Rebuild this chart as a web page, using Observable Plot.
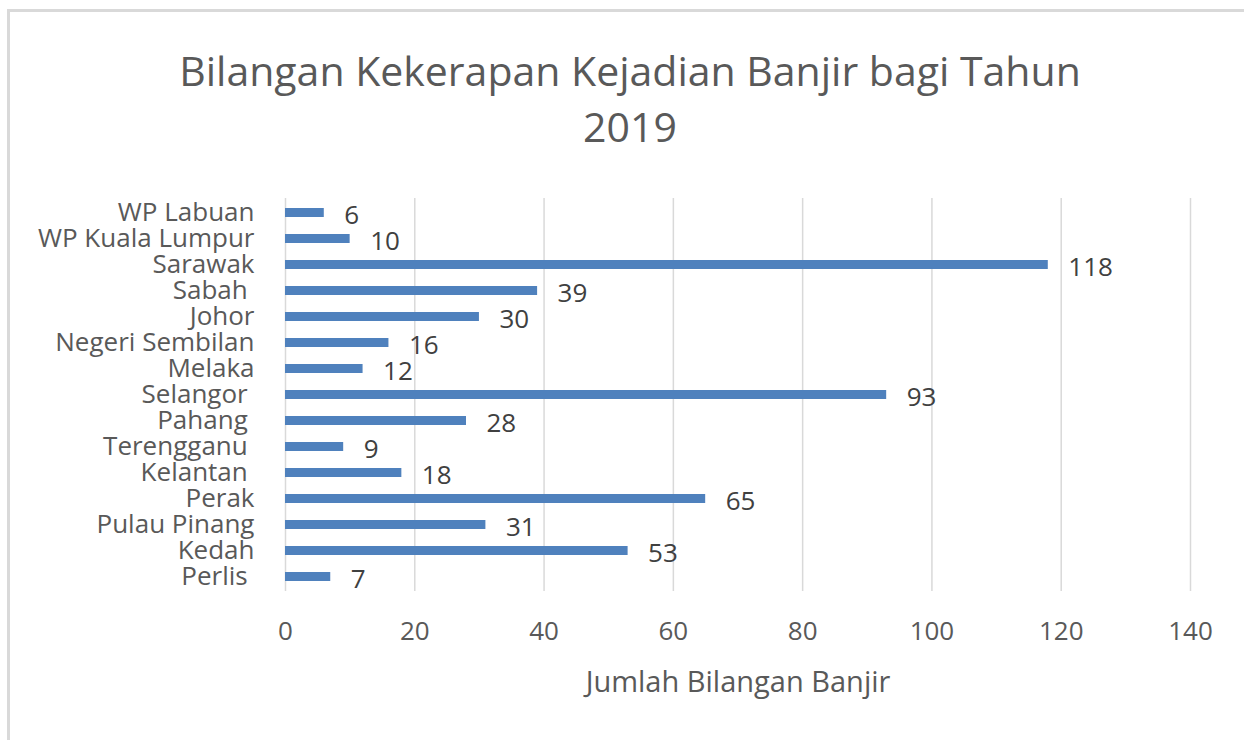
<!DOCTYPE html>
<html>
<head>
<meta charset="utf-8">
<script src="https://cdn.jsdelivr.net/npm/d3@7"></script>
<script src="https://cdn.jsdelivr.net/npm/@observablehq/plot@0.6"></script>
<style>
  html, body { margin: 0; padding: 0; background: #fff; }
  body { width: 1244px; height: 740px; position: relative; overflow: hidden; font-family: "Open Sans", sans-serif; }
  #frame { position: absolute; left: 7px; top: 9px; right: -10px; bottom: -10px; border-top: 3px solid #d9d9d9; border-left: 3px solid #d9d9d9; pointer-events: none; }
  #title { height: 180px; box-sizing: border-box; padding-top: 42px; padding-left: 16px; text-align: center; color: #595959; font-size: 41px; line-height: 56px; }
  #chart svg text { white-space: pre; }
</style>
</head>
<body>
<div id="frame"></div>
<div id="title">Bilangan Kekerapan Kejadian Banjir bagi Tahun<br>2019</div>
<div id="chart"></div>
<script>
const states = ["WP Labuan", "WP Kuala Lumpur", "Sarawak", "Sabah ", "Johor", "Negeri Sembilan", "Melaka", "Selangor ", "Pahang ", "Terengganu ", "Kelantan ", "Perak", "Pulau Pinang", "Kedah", "Perlis "];
const floods = [6, 10, 118, 39, 30, 16, 12, 93, 28, 9, 18, 65, 31, 53, 7];
const xTicks = [0, 20, 40, 60, 80, 100, 120, 140];
const xLabel = "Jumlah Bilangan Banjir";

const data = states.map((s, i) => ({state: s, value: floods[i]}));

const chart = Plot.plot({
  width: 1244,
  height: 560,
  marginLeft: 285,
  marginRight: 54,
  marginTop: 18,
  marginBottom: 149,
  style: {fontFamily: "Open Sans, sans-serif", color: "#595959", background: "transparent"},
  x: {type: "linear", domain: [0, 140], ticks: xTicks},
  y: {type: "band", domain: states, paddingInner: 0.65, paddingOuter: 0.325},
  marks: [
    Plot.gridX(xTicks, {stroke: "#d9d9d9", strokeOpacity: 1, strokeWidth: 1.5}),
    Plot.barX(data, {x: "value", y: "state", fill: "#4f81bd"}),
    Plot.text(data, {x: "value", y: "state", text: d => String(d.value), textAnchor: "start", dx: 20, dy: 3, fontSize: 26, fill: "#404040"}),
    Plot.axisX(xTicks, {tickSize: 0, tickPadding: 30, fontSize: 26, fill: "#595959", tickFormat: d => String(d), label: null}),
    Plot.axisX({tickSize: 0, ticks: [], label: xLabel, labelAnchor: "center", labelArrow: "none", labelOffset: 100, fontSize: 29, fill: "#595959"}),
    Plot.axisY({tickSize: 0, tickPadding: 31, fontSize: 26, fill: "#595959", label: null})
  ]
});
document.getElementById("chart").appendChild(chart);
</script>
</body>
</html>
